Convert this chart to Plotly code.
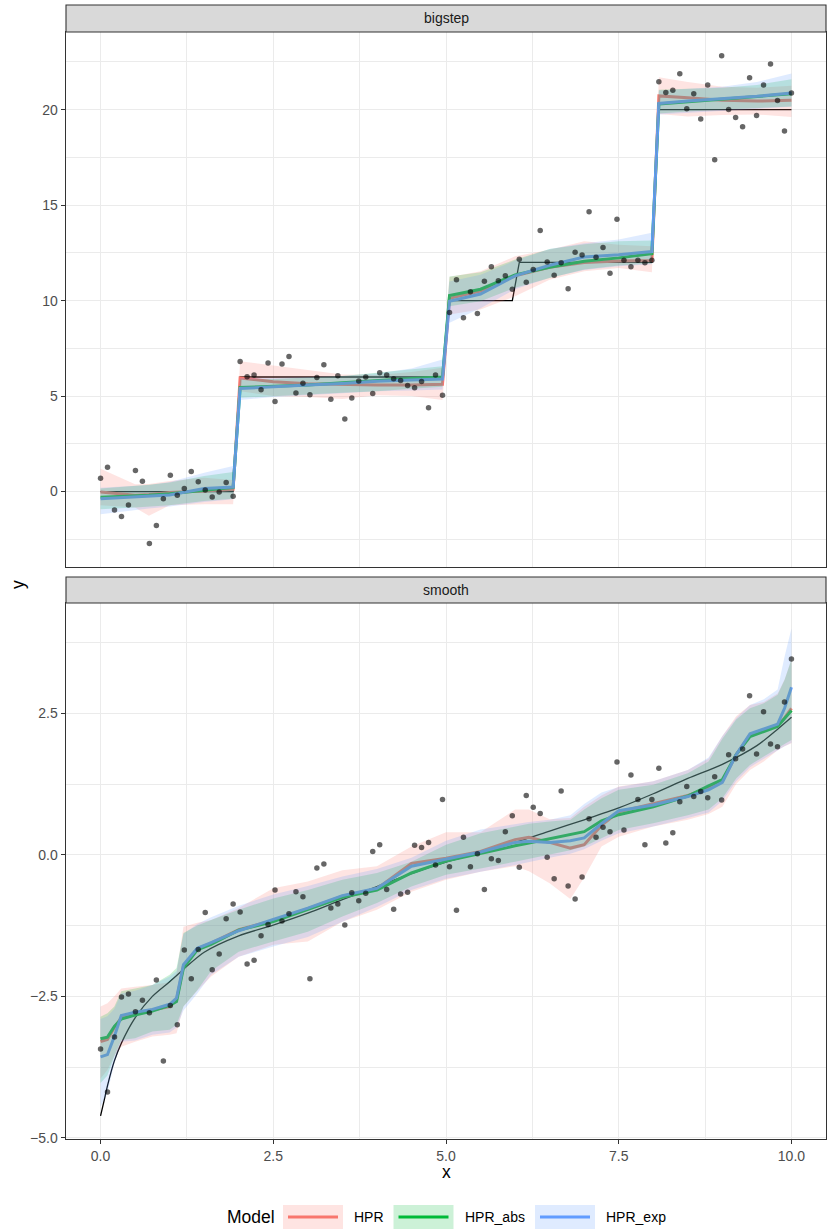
import numpy as np
import plotly.graph_objects as go

# ---------------- data ----------------
x_obs = np.linspace(0, 10, 100)

bigstep_y = [0.70, 1.27, -0.96, -1.31, -0.70, 1.10, 0.54, -2.72, -1.78, -0.37,
             0.85, -0.19, 0.16, 1.05, 0.52, 0.08, -0.28, -0.02, 0.47, -0.25,
             6.81, 6.01, 6.10, 5.33, 6.73, 4.72, 6.68, 7.08, 5.16, 5.68,
             5.07, 5.98, 6.64, 4.83, 6.07, 3.80, 4.90, 5.79, 6.00, 5.14,
             6.22, 6.10, 5.91, 5.82, 5.56, 5.44, 5.77, 4.39, 6.10, 5.04,
             9.38, 11.09, 9.10, 10.46, 9.33, 11.02, 11.78, 11.04, 11.31, 10.60,
             12.17, 10.96, 11.63, 13.68, 12.03, 11.33, 11.98, 10.62, 12.53, 12.39,
             14.66, 12.27, 12.78, 11.43, 14.26, 12.11, 11.78, 12.11, 11.98, 12.11,
             21.46, 20.90, 21.02, 21.88, 20.05, 20.83, 19.51, 21.30, 17.38, 22.82,
             20.01, 19.59, 19.11, 21.68, 19.70, 21.29, 22.40, 20.48, 18.88, 20.88]

smooth_y = [-3.43, -4.19, -3.22, -2.51, -2.46, -2.77, -2.57, -2.79, -2.21, -3.64,
            -2.66, -3.00, -1.68, -2.19, -1.67, -1.02, -2.03, -1.75, -1.13, -0.87,
            -1.01, -1.93, -1.86, -1.43, -1.23, -0.62, -1.17, -1.04, -0.65, -0.74,
            -2.19, -0.23, -0.16, -0.94, -0.87, -1.24, -0.67, -0.81, -0.68, 0.06,
            0.18, -0.61, -0.96, -0.69, -0.66, 0.17, 0.13, 0.22, -0.18, 0.98,
            -0.21, -0.98, 0.31, -0.21, 0.02, -0.61, -0.07, -0.10, 0.41, 0.69,
            -0.22, 1.05, 0.84, 0.73, -0.04, -0.42, 1.13, -0.55, -0.78, -0.39,
            0.64, 0.31, 0.49, 0.41, 1.64, 0.44, 1.41, 0.98, 0.18, 0.98,
            1.53, 0.21, 0.39, 0.94, 1.21, 1.03, 1.12, 1.01, 1.38, 0.97,
            1.77, 1.70, 1.87, 2.81, 1.78, 2.53, 1.96, 1.91, 2.70, 3.46]

# true functions
bigstep_truth_x = [0.0, 1.919, 2.020, 4.949, 5.051, 5.960, 6.061, 7.980, 8.081, 10.0]
bigstep_truth_y = [0, 0, 6, 6, 10, 10, 12, 12, 20, 20]

smooth_truth_x = [0, 0.05, 0.1, 0.2, 0.3, 0.5, 0.75, 1.0, 1.5, 2.0, 2.5, 3.0, 3.5, 4.0,
                  4.5, 5.0, 5.5, 6.0, 6.5, 7.0, 7.5, 8.0, 8.5, 9.0, 9.5, 9.8, 10.0]
smooth_truth_y = [-4.61, -4.35, -4.08, -3.64, -3.33, -2.88, -2.50, -2.24, -1.72, -1.43,
                  -1.24, -1.03, -0.79, -0.56, -0.33, -0.13, 0.04, 0.22, 0.42, 0.62,
                  0.83, 1.08, 1.35, 1.60, 1.93, 2.22, 2.43]

models = ["HPR", "HPR_abs", "HPR_exp"]
colors = {"HPR": (248, 118, 109), "HPR_abs": (0, 186, 56), "HPR_exp": (97, 156, 255)}

# fitted values (bigstep)
big_fit_x = [0.0, 0.5, 0.7, 1.0, 1.5, 1.919, 2.020, 2.5, 3.0, 3.5, 4.0, 4.5, 4.949,
             5.051, 5.5, 6.0, 6.5, 7.0, 7.5, 7.980, 8.081, 8.5, 9.0, 9.5, 10.0]
big_HPR = [-0.02, -0.19, -0.15, -0.05, 0.03, 0.12, 5.95, 5.75, 5.65, 5.60, 5.58, 5.58, 5.62,
           10.12, 10.50, 11.30, 11.75, 12.00, 12.08, 12.10, 20.72, 20.62, 20.50, 20.45, 20.49]
big_HPR_lo = [-0.72, -0.84, -1.27, -0.72, -0.66, -0.66, 5.26, 5.00, 4.95, 4.85, 5.05, 5.00, 4.79,
              9.27, 9.53, 10.23, 11.10, 11.54, 11.71, 11.49, 19.78, 19.65, 19.72, 19.75, 19.62]
big_HPR_hi = [1.20, 0.38, 0.40, 0.56, 0.73, 0.61, 6.83, 6.60, 6.40, 6.13, 6.10, 6.26, 6.49,
              11.24, 11.54, 12.32, 12.67, 13.11, 12.93, 12.85, 21.70, 21.45, 21.20, 21.15, 21.25]
big_abs = [-0.30, -0.23, -0.19, -0.11, 0.09, 0.22, 5.45, 5.50, 5.58, 5.70, 5.82, 5.92, 6.00,
           10.27, 10.60, 11.35, 11.75, 12.06, 12.24, 12.46, 20.30, 20.42, 20.55, 20.68, 20.83]
big_abs_lo = [-0.93, -0.84, -0.80, -0.72, -0.49, -0.37, 4.91, 5.00, 5.09, 5.18, 5.26, 5.39, 5.49,
              9.71, 9.97, 10.67, 11.19, 11.63, 11.84, 11.94, 19.80, 19.90, 20.00, 20.10, 20.17]
big_abs_hi = [0.16, 0.29, 0.36, 0.47, 0.82, 1.03, 5.87, 5.90, 5.96, 6.05, 6.22, 6.40, 6.57,
              11.27, 11.49, 12.15, 12.70, 12.95, 13.11, 13.15, 21.05, 21.10, 21.15, 21.30, 21.60]
big_exp = [-0.37, -0.28, -0.24, -0.18, 0.16, 0.24, 5.40, 5.50, 5.58, 5.66, 5.78, 5.84, 5.90,
           9.97, 10.35, 11.30, 11.85, 12.29, 12.41, 12.57, 20.33, 20.45, 20.57, 20.70, 20.87]
big_exp_lo = [-1.19, -0.96, -0.88, -0.78, -0.54, -0.40, 4.80, 4.95, 5.05, 5.15, 5.25, 5.30, 5.35,
              8.84, 9.60, 10.60, 11.20, 11.60, 11.80, 11.90, 19.75, 19.85, 19.95, 20.05, 20.15]
big_exp_hi = [0.20, 0.30, 0.34, 0.50, 0.99, 1.34, 5.95, 5.95, 6.00, 6.05, 6.20, 6.45, 6.92,
              11.00, 11.35, 12.10, 12.70, 13.00, 13.20, 13.55, 21.00, 21.10, 21.20, 21.45, 21.90]

# fitted values (smooth)
sm_fit_x = [0, 0.1, 0.2, 0.3, 0.5, 0.75, 1.0, 1.1, 1.2, 1.4, 1.6, 2.0, 2.5, 3.0, 3.5, 4.0,
            4.5, 5.0, 5.5, 6.0, 6.2, 6.5, 6.8, 7.0, 7.25, 7.5, 8.0, 8.5, 8.8, 9.0, 9.2,
            9.4, 9.6, 9.8, 9.9, 10.0]
sm_HPR = [-3.30, -3.26, -3.05, -2.88, -2.80, -2.74, -2.68, -2.56, -1.96, -1.66, -1.56, -1.32,
          -1.16, -0.95, -0.73, -0.60, -0.15, -0.06, 0.06, 0.27, 0.31, 0.22, 0.12, 0.18, 0.52,
          0.76, 0.90, 1.05, 1.18, 1.30, 1.77, 2.12, 2.20, 2.28, 2.42, 2.59]
sm_HPR_lo = [-3.95, -3.80, -3.55, -3.39, -3.30, -3.21, -3.18, -3.15, -2.68, -2.40, -2.15, -1.80,
             -1.59, -1.53, -1.18, -0.97, -0.65, -0.44, -0.30, -0.20, -0.29, -0.50, -0.78, -0.40,
             0.15, 0.32, 0.50, 0.62, 0.72, 0.85, 1.25, 1.50, 1.65, 1.85, 1.92, 1.97]
sm_HPR_hi = [-2.68, -2.62, -2.50, -2.36, -2.33, -2.30, -2.25, -2.10, -1.27, -1.20, -1.15, -0.94,
             -0.59, -0.47, -0.27, -0.20, 0.15, 0.40, 0.40, 0.80, 0.80, 0.63, 0.65, 0.85, 1.05,
             1.21, 1.30, 1.50, 1.70, 2.10, 2.45, 2.65, 2.70, 2.85, 3.10, 3.45]
sm_abs = [-3.25, -3.22, -3.03, -2.90, -2.83, -2.76, -2.66, -2.59, -2.00, -1.68, -1.58, -1.33,
          -1.18, -0.97, -0.75, -0.62, -0.32, -0.11, 0.03, 0.16, 0.21, 0.29, 0.36, 0.41, 0.60,
          0.71, 0.85, 1.04, 1.22, 1.33, 1.77, 2.09, 2.18, 2.27, 2.41, 2.55]
sm_abs_lo = [-4.03, -3.90, -3.56, -3.27, -3.24, -3.12, -3.09, -3.00, -2.68, -2.39, -2.05, -1.71,
             -1.53, -1.36, -1.09, -0.85, -0.56, -0.35, -0.24, -0.12, -0.08, 0.00, 0.08, 0.15,
             0.30, 0.44, 0.56, 0.70, 0.80, 1.00, 1.35, 1.59, 1.74, 1.89, 1.96, 2.03]
sm_abs_hi = [-2.86, -2.80, -2.68, -2.41, -2.36, -2.30, -2.12, -2.00, -1.38, -1.25, -1.15, -0.97,
             -0.77, -0.62, -0.44, -0.32, -0.12, 0.18, 0.38, 0.50, 0.55, 0.59, 0.62, 0.80, 1.00,
             1.15, 1.24, 1.44, 1.65, 2.05, 2.39, 2.59, 2.68, 2.83, 3.09, 3.45]
sm_exp = [-3.57, -3.53, -3.21, -2.84, -2.78, -2.73, -2.64, -2.53, -1.94, -1.65, -1.55, -1.34,
          -1.14, -0.94, -0.72, -0.59, -0.20, -0.07, 0.05, 0.22, 0.24, 0.22, 0.25, 0.30, 0.55,
          0.78, 0.88, 1.03, 1.15, 1.28, 1.77, 2.14, 2.22, 2.31, 2.59, 2.96]
sm_exp_lo = [-4.45, -4.20, -3.68, -3.30, -3.28, -3.18, -3.14, -3.05, -2.75, -2.45, -2.12, -1.80,
             -1.62, -1.45, -1.18, -0.92, -0.62, -0.42, -0.30, -0.18, -0.12, -0.05, 0.02, 0.10,
             0.25, 0.38, 0.50, 0.65, 0.75, 0.95, 1.30, 1.55, 1.70, 1.85, 1.92, 1.98]
sm_exp_hi = [-2.90, -2.85, -2.72, -2.45, -2.40, -2.30, -2.15, -2.05, -1.40, -1.22, -1.10, -0.90,
             -0.70, -0.55, -0.38, -0.25, -0.05, 0.25, 0.45, 0.55, 0.58, 0.62, 0.70, 0.90, 1.10,
             1.20, 1.30, 1.50, 1.72, 2.10, 2.42, 2.65, 2.75, 2.92, 3.50, 4.00]

x_ticks = [0, 2.5, 5, 7.5, 10]
x_ticktext = ["0.0", "2.5", "5.0", "7.5", "10.0"]
big_yticks = [0, 5, 10, 15, 20]
big_yticktext = ["0", "5", "10", "15", "20"]
sm_yticks = [-5, -2.5, 0, 2.5]
sm_yticktext = ["\u22125.0", "\u22122.5", "0.0", "2.5"]

panels = [
    dict(name="bigstep", xa="x", ya="y", obs=bigstep_y,
         tx=bigstep_truth_x, ty=bigstep_truth_y, tshape="linear", fx=big_fit_x,
         fit={"HPR": (big_HPR, big_HPR_lo, big_HPR_hi),
              "HPR_abs": (big_abs, big_abs_lo, big_abs_hi),
              "HPR_exp": (big_exp, big_exp_lo, big_exp_hi)}),
    dict(name="smooth", xa="x2", ya="y2", obs=smooth_y,
         tx=smooth_truth_x, ty=smooth_truth_y, tshape="spline", fx=sm_fit_x,
         fit={"HPR": (sm_HPR, sm_HPR_lo, sm_HPR_hi),
              "HPR_abs": (sm_abs, sm_abs_lo, sm_abs_hi),
              "HPR_exp": (sm_exp, sm_exp_lo, sm_exp_hi)}),
]

def rgba(c, a):
    return "rgba(%d,%d,%d,%s)" % (c[0], c[1], c[2], a)

fig = go.Figure()
for p in panels:
    fx = list(p["fx"])
    # true function (bottom layer)
    fig.add_trace(go.Scatter(x=p["tx"], y=p["ty"], mode="lines", xaxis=p["xa"], yaxis=p["ya"],
                             line=dict(color="black", width=1.3, shape=p["tshape"],
                                       **({"smoothing": 0.8} if p["tshape"] == "spline" else {})),
                             showlegend=False, hoverinfo="skip"))
    # fitted lines (ribbons overlay them)
    for m in models:
        mean, lo, hi = p["fit"][m]
        fig.add_trace(go.Scatter(x=fx, y=mean, mode="lines", xaxis=p["xa"], yaxis=p["ya"],
                                 line=dict(color=rgba(colors[m], 1), width=3),
                                 showlegend=False, hoverinfo="skip"))
    for m in models:
        mean, lo, hi = p["fit"][m]
        fig.add_trace(go.Scatter(x=fx + fx[::-1], y=list(hi) + list(lo)[::-1], mode="lines",
                                 fill="toself", fillcolor=rgba(colors[m], 0.2),
                                 line=dict(width=0), xaxis=p["xa"], yaxis=p["ya"],
                                 showlegend=False, hoverinfo="skip"))
    fig.add_trace(go.Scatter(x=x_obs, y=p["obs"], mode="markers", xaxis=p["xa"], yaxis=p["ya"],
                             marker=dict(color="rgba(0,0,0,0.6)", size=5.5, line=dict(width=0)),
                             showlegend=False, hoverinfo="skip"))

# ---------------- layout ----------------
W, H = 827, 1230
ML, MR, MT, MB = 66, 1, 5, 91
PW = W - ML - MR
PH = H - MT - MB

def pxx(v):
    return (v - ML) / PW

def pxy(v):
    return (H - MB - v) / PH

FONT = "Liberation Sans, Arial, Helvetica, sans-serif"
GRID = "#EBEBEB"
BORDER = "#333333"

common_axis = dict(showline=True, mirror=True, linecolor=BORDER, linewidth=1.1,
                   zeroline=False, showgrid=True, gridcolor=GRID, gridwidth=1.1,
                   tickfont=dict(family=FONT, size=14, color="#4D4D4D"))

fig.update_layout(
    width=W, height=H,
    margin=dict(l=ML, r=MR, t=MT, b=MB),
    paper_bgcolor="white", plot_bgcolor="white",
    font=dict(family=FONT, color="#1A1A1A"),
    showlegend=False,
    xaxis=dict(domain=[0, 1], anchor="y", range=[-0.5, 10.5], tickvals=x_ticks,
               showticklabels=False, ticks="",
               minor=dict(tickvals=[1.25, 3.75, 6.25, 8.75], showgrid=True,
                          gridcolor=GRID, gridwidth=0.55, ticks=""),
               **common_axis),
    yaxis=dict(domain=[pxy(567), pxy(32)], anchor="x", range=[-3.95, 24.07],
               tickvals=big_yticks, ticktext=big_yticktext, ticks="outside", ticklen=4.4,
               tickwidth=1.1, tickcolor=BORDER,
               minor=dict(tickvals=[-2.5, 2.5, 7.5, 12.5, 17.5, 22.5], showgrid=True,
                          gridcolor=GRID, gridwidth=0.55, ticks=""),
               **common_axis),
    xaxis2=dict(domain=[0, 1], anchor="y2", range=[-0.5, 10.5], tickvals=x_ticks,
                ticktext=x_ticktext, ticks="outside", ticklen=4.4, tickwidth=1.1,
                tickcolor=BORDER,
                minor=dict(tickvals=[1.25, 3.75, 6.25, 8.75], showgrid=True,
                           gridcolor=GRID, gridwidth=0.55, ticks=""),
                **common_axis),
    yaxis2=dict(domain=[0, pxy(603)], anchor="x2", range=[-5.02, 4.45],
                tickvals=sm_yticks, ticktext=sm_yticktext, ticks="outside", ticklen=4.4,
                tickwidth=1.1, tickcolor=BORDER,
                minor=dict(tickvals=[-3.75, -1.25, 1.25, 3.75], showgrid=True,
                           gridcolor=GRID, gridwidth=0.55, ticks=""),
                **common_axis),
)

shapes = []
annotations = []
# strips
for (top, bot, label) in [(5, 32, "bigstep"), (577, 603, "smooth")]:
    shapes.append(dict(type="rect", xref="paper", yref="paper", x0=0, x1=1,
                       y0=pxy(bot), y1=pxy(top), fillcolor="#D9D9D9",
                       line=dict(color=BORDER, width=1.1), layer="above"))
    annotations.append(dict(text=label, xref="paper", yref="paper", x=0.5,
                            y=pxy((top + bot) / 2), showarrow=False,
                            xanchor="center", yanchor="middle",
                            font=dict(family=FONT, size=14, color="#1A1A1A")))

# axis titles
annotations.append(dict(text="x", xref="paper", yref="paper", x=pxx(446), y=pxy(1172),
                        showarrow=False, xanchor="center", yanchor="middle",
                        font=dict(family=FONT, size=17.5, color="black")))
annotations.append(dict(text="y", xref="paper", yref="paper", x=pxx(18), y=pxy(585),
                        showarrow=False, xanchor="center", yanchor="middle", textangle=-90,
                        font=dict(family=FONT, size=17.5, color="black")))

# legend (drawn manually, ggplot style)
annotations.append(dict(text="Model", xref="paper", yref="paper", x=pxx(225), y=pxy(1217),
                        showarrow=False, xanchor="left", yanchor="middle",
                        font=dict(family=FONT, size=17.5, color="black")))
key_left = {"HPR": 283, "HPR_abs": 393.5, "HPR_exp": 535}
for m in models:
    x0 = key_left[m]
    shapes.append(dict(type="rect", xref="paper", yref="paper", x0=pxx(x0), x1=pxx(x0 + 60),
                       y0=pxy(1229), y1=pxy(1205), fillcolor=rgba(colors[m], 0.2),
                       line=dict(width=0)))
    shapes.append(dict(type="line", xref="paper", yref="paper", x0=pxx(x0 + 5),
                       x1=pxx(x0 + 55), y0=pxy(1217), y1=pxy(1217),
                       line=dict(color=rgba(colors[m], 1), width=3)))
    annotations.append(dict(text=m, xref="paper", yref="paper", x=pxx(x0 + 69),
                            y=pxy(1217), showarrow=False, xanchor="left", yanchor="middle",
                            font=dict(family=FONT, size=14, color="black")))

fig.update_layout(shapes=shapes, annotations=annotations)
fig.write_html("out.html", config={"displayModeBar": False},
               post_script="document.body.style.margin='0px';document.body.style.overflow='hidden';")
